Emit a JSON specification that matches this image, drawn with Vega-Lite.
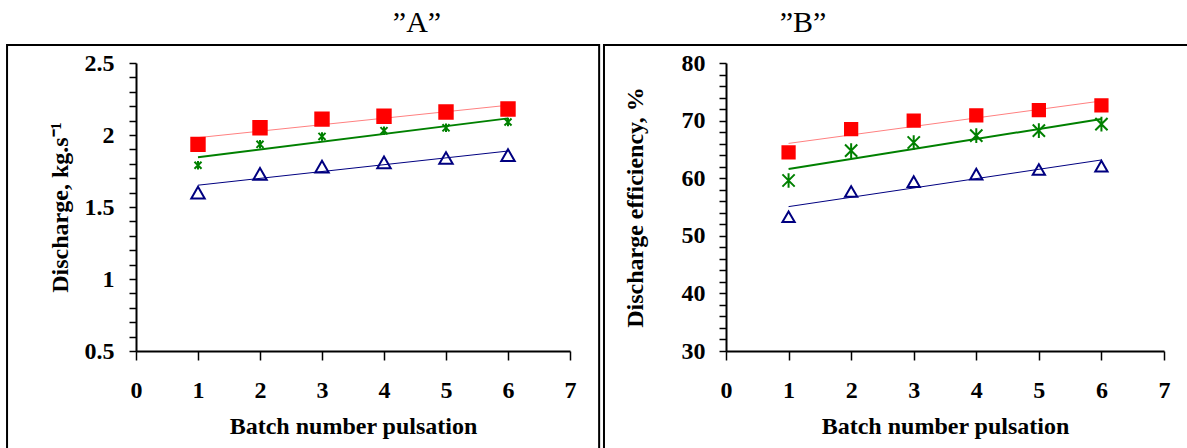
{
  "$schema": "https://vega.github.io/schema/vega-lite/v6.json",
  "padding": {"left": 6, "top": 8, "right": 0, "bottom": 0},
  "spacing": 1,
  "datasets": {
    "a": [
      {"x": 1, "v": 1.79, "d": "40"}, {"x": 2, "v": 1.935, "d": "40"}, {"x": 3, "v": 1.99, "d": "40"},
      {"x": 4, "v": 2.03, "d": "40"}, {"x": 5, "v": 2.05, "d": "40"}, {"x": 6, "v": 2.09, "d": "40"},
      {"x": 1, "v": 1.935, "d": "45"}, {"x": 2, "v": 2.05, "d": "45"}, {"x": 3, "v": 2.11, "d": "45"},
      {"x": 4, "v": 2.13, "d": "45"}, {"x": 5, "v": 2.16, "d": "45"}, {"x": 6, "v": 2.18, "d": "45"},
      {"x": 1, "v": 1.60, "d": "50"}, {"x": 2, "v": 1.73, "d": "50"}, {"x": 3, "v": 1.78, "d": "50"},
      {"x": 4, "v": 1.81, "d": "50"}, {"x": 5, "v": 1.84, "d": "50"}, {"x": 6, "v": 1.86, "d": "50"}
    ],
    "b": [
      {"x": 1, "v": 59.6, "d": "40"}, {"x": 2, "v": 64.8, "d": "40"}, {"x": 3, "v": 66.2, "d": "40"},
      {"x": 4, "v": 67.4, "d": "40"}, {"x": 5, "v": 68.25, "d": "40"}, {"x": 6, "v": 69.4, "d": "40"},
      {"x": 1, "v": 64.5, "d": "45"}, {"x": 2, "v": 68.5, "d": "45"}, {"x": 3, "v": 70.0, "d": "45"},
      {"x": 4, "v": 70.9, "d": "45"}, {"x": 5, "v": 71.8, "d": "45"}, {"x": 6, "v": 72.65, "d": "45"},
      {"x": 1, "v": 53.3, "d": "50"}, {"x": 2, "v": 57.7, "d": "50"}, {"x": 3, "v": 59.4, "d": "50"},
      {"x": 4, "v": 60.7, "d": "50"}, {"x": 5, "v": 61.5, "d": "50"}, {"x": 6, "v": 62.1, "d": "50"}
    ]
  },
  "config": {
    "font": "Liberation Serif",
    "view": {"stroke": null},
    "axis": {
      "grid": false, "labelOverlap": false, "labelFlush": false, "labelBound": false, "tickCount": 100,
      "labelFont": "Liberation Serif", "labelFontSize": 24, "labelFontWeight": "bold", "labelColor": "black",
      "titleFont": "Liberation Serif", "titleFontSize": 24, "titleFontWeight": "bold", "titleColor": "black",
      "domainColor": "black", "domainWidth": 2, "tickColor": "black", "tickWidth": 1.5
    },
    "title": {"font": "Liberation Serif", "fontSize": 30, "fontWeight": "normal", "color": "black"}
  },
  "resolve": {
    "scale": {"color": "independent", "fill": "independent", "stroke": "independent", "shape": "independent", "size": "independent", "strokeWidth": "independent"},
    "legend": {"fill": "independent", "stroke": "independent", "shape": "independent", "size": "independent"}
  },
  "hconcat": [
    {
      "width": 434, "height": 288,
      "title": {"text": "”A”", "dx": 64, "offset": 6},
      "layer": [
        {
          "data": {"values": [{}]},
          "mark": {"type": "rect", "fill": "transparent", "stroke": "black", "strokeWidth": 2},
          "encoding": {
            "x": {"datum": -2.08, "type": "quantitative"}, "x2": {"datum": 7.47},
            "y": {"datum": -0.26, "type": "quantitative"}, "y2": {"datum": 2.625}
          }
        },
        {
          "data": {"name": "a"},
          "transform": [{"regression": "v", "on": "x", "groupby": ["d"]}],
          "mark": {"type": "line"},
          "encoding": {
            "x": {"field": "x", "type": "quantitative"},
            "y": {"field": "v", "type": "quantitative"},
            "color": {"field": "d", "type": "nominal", "legend": null, "scale": {"domain": ["40", "45", "50"], "range": ["#008000", "#FF8080", "#000080"]}},
            "strokeWidth": {"field": "d", "type": "nominal", "legend": null, "scale": {"type": "ordinal", "domain": ["40", "45", "50"], "range": [2, 1, 1]}}
          }
        },
        {
          "data": {"name": "a"},
          "mark": {"type": "point", "strokeWidth": 2, "opacity": 1},
          "encoding": {
            "x": {"field": "x", "type": "quantitative", "title": "Batch number pulsation",
              "scale": {"domain": [0, 7], "nice": false},
              "axis": {"values": [0, 1, 2, 3, 4, 5, 6, 7], "tickSize": 9, "labelPadding": 18, "titlePadding": 12, "format": "d"}},
            "y": {"field": "v", "type": "quantitative", "title": "Discharge, kg.s⁻¹",
              "scale": {"domain": [0.5, 2.5], "nice": false, "zero": false},
              "axis": {"values": [0.5, 0.6, 0.7, 0.8, 0.9, 1, 1.1, 1.2, 1.3, 1.4, 1.5, 1.6, 1.7, 1.8, 1.9, 2, 2.1, 2.2, 2.3, 2.4, 2.5],
                "labelExpr": "abs(round(datum.value*2)-datum.value*2) < 0.001 ? format(datum.value, '.1~f') : ''",
                "tickSize": 7, "labelPadding": 15, "titlePadding": 12}},
            "shape": {"field": "d", "type": "nominal", "title": "Orifice diameter, cm",
              "legend": {"orient": "bottom-right", "direction": "horizontal", "offset": 0,
                "titleFont": "Liberation Serif", "titleFontSize": 21, "titleFontWeight": "bold", "titleColor": "black",
                "labelFont": "Liberation Serif", "labelFontSize": 24, "labelFontWeight": "bold", "labelColor": "black"},
              "scale": {"domain": ["40", "45", "50"], "range": ["M-1,-1L1,1M-1,1L1,-1M0,-1.2L0,1.2", "square", "triangle-up"]}},
            "stroke": {"field": "d", "type": "nominal", "title": "Orifice diameter, cm",
              "legend": {"orient": "bottom-right", "direction": "horizontal", "offset": 0,
                "titleFont": "Liberation Serif", "titleFontSize": 21, "titleFontWeight": "bold", "titleColor": "black",
                "labelFont": "Liberation Serif", "labelFontSize": 24, "labelFontWeight": "bold", "labelColor": "black"},
              "scale": {"domain": ["40", "45", "50"], "range": ["#008000", "#FF0000", "#000080"]}},
            "fill": {"field": "d", "type": "nominal", "title": "Orifice diameter, cm",
              "legend": {"orient": "bottom-right", "direction": "horizontal", "offset": 0,
                "titleFont": "Liberation Serif", "titleFontSize": 21, "titleFontWeight": "bold", "titleColor": "black",
                "labelFont": "Liberation Serif", "labelFontSize": 24, "labelFontWeight": "bold", "labelColor": "black"},
              "scale": {"domain": ["40", "45", "50"], "range": ["#008000", "#FF0000", "transparent"]}},
            "size": {"field": "d", "type": "nominal", "title": "Orifice diameter, cm",
              "legend": {"orient": "bottom-right", "direction": "horizontal", "offset": 0,
                "titleFont": "Liberation Serif", "titleFontSize": 21, "titleFontWeight": "bold", "titleColor": "black",
                "labelFont": "Liberation Serif", "labelFontSize": 24, "labelFontWeight": "bold", "labelColor": "black"},
              "scale": {"type": "ordinal", "domain": ["40", "45", "50"], "range": [50, 180, 180]}}
          }
        }
      ]
    },
    {
      "width": 438, "height": 288,
      "title": {"text": "”B”", "dx": -142, "offset": 6},
      "layer": [
        {
          "data": {"values": [{}]},
          "mark": {"type": "rect", "fill": "transparent", "stroke": "black", "strokeWidth": 2},
          "encoding": {
            "x": {"datum": -1.95, "type": "quantitative"}, "x2": {"datum": 7.45},
            "y": {"datum": 11.08, "type": "quantitative"}, "y2": {"datum": 83.125}
          }
        },
        {
          "data": {"name": "b"},
          "transform": [{"regression": "v", "on": "x", "groupby": ["d"]}],
          "mark": {"type": "line"},
          "encoding": {
            "x": {"field": "x", "type": "quantitative"},
            "y": {"field": "v", "type": "quantitative"},
            "color": {"field": "d", "type": "nominal", "legend": null, "scale": {"domain": ["40", "45", "50"], "range": ["#008000", "#FF8080", "#000080"]}},
            "strokeWidth": {"field": "d", "type": "nominal", "legend": null, "scale": {"type": "ordinal", "domain": ["40", "45", "50"], "range": [2, 1, 1]}}
          }
        },
        {
          "data": {"name": "b"},
          "mark": {"type": "point", "strokeWidth": 2, "opacity": 1, "size": 150},
          "encoding": {
            "x": {"field": "x", "type": "quantitative", "title": "Batch number pulsation",
              "scale": {"domain": [0, 7], "nice": false},
              "axis": {"values": [0, 1, 2, 3, 4, 5, 6, 7], "tickSize": 9, "labelPadding": 18, "titlePadding": 12, "format": "d"}},
            "y": {"field": "v", "type": "quantitative", "title": "Discharge efficiency, %",
              "scale": {"domain": [30, 80], "nice": false, "zero": false},
              "axis": {"values": [30, 32, 34, 36, 38, 40, 42, 44, 46, 48, 50, 52, 54, 56, 58, 60, 62, 64, 66, 68, 70, 72, 74, 76, 78, 80],
                "labelExpr": "datum.value % 10 == 0 ? format(datum.value, 'd') : ''",
                "tickSize": 7, "labelPadding": 14, "titlePadding": 34}},
            "shape": {"field": "d", "type": "nominal", "title": "Orifice diameter, cm",
              "legend": {"orient": "bottom-right", "direction": "horizontal", "offset": 0,
                "titleFont": "Liberation Serif", "titleFontSize": 21, "titleFontWeight": "bold", "titleColor": "black",
                "labelFont": "Liberation Serif", "labelFontSize": 24, "labelFontWeight": "bold", "labelColor": "black"},
              "scale": {"domain": ["40", "45", "50"], "range": ["M-1,-1L1,1M-1,1L1,-1M0,-1.2L0,1.2", "square", "triangle-up"]}},
            "stroke": {"field": "d", "type": "nominal", "title": "Orifice diameter, cm",
              "legend": {"orient": "bottom-right", "direction": "horizontal", "offset": 0,
                "titleFont": "Liberation Serif", "titleFontSize": 21, "titleFontWeight": "bold", "titleColor": "black",
                "labelFont": "Liberation Serif", "labelFontSize": 24, "labelFontWeight": "bold", "labelColor": "black"},
              "scale": {"domain": ["40", "45", "50"], "range": ["#008000", "#FF0000", "#000080"]}},
            "fill": {"field": "d", "type": "nominal", "title": "Orifice diameter, cm",
              "legend": {"orient": "bottom-right", "direction": "horizontal", "offset": 0,
                "titleFont": "Liberation Serif", "titleFontSize": 21, "titleFontWeight": "bold", "titleColor": "black",
                "labelFont": "Liberation Serif", "labelFontSize": 24, "labelFontWeight": "bold", "labelColor": "black"},
              "scale": {"domain": ["40", "45", "50"], "range": ["#008000", "#FF0000", "transparent"]}}
          }
        }
      ]
    }
  ]
}
